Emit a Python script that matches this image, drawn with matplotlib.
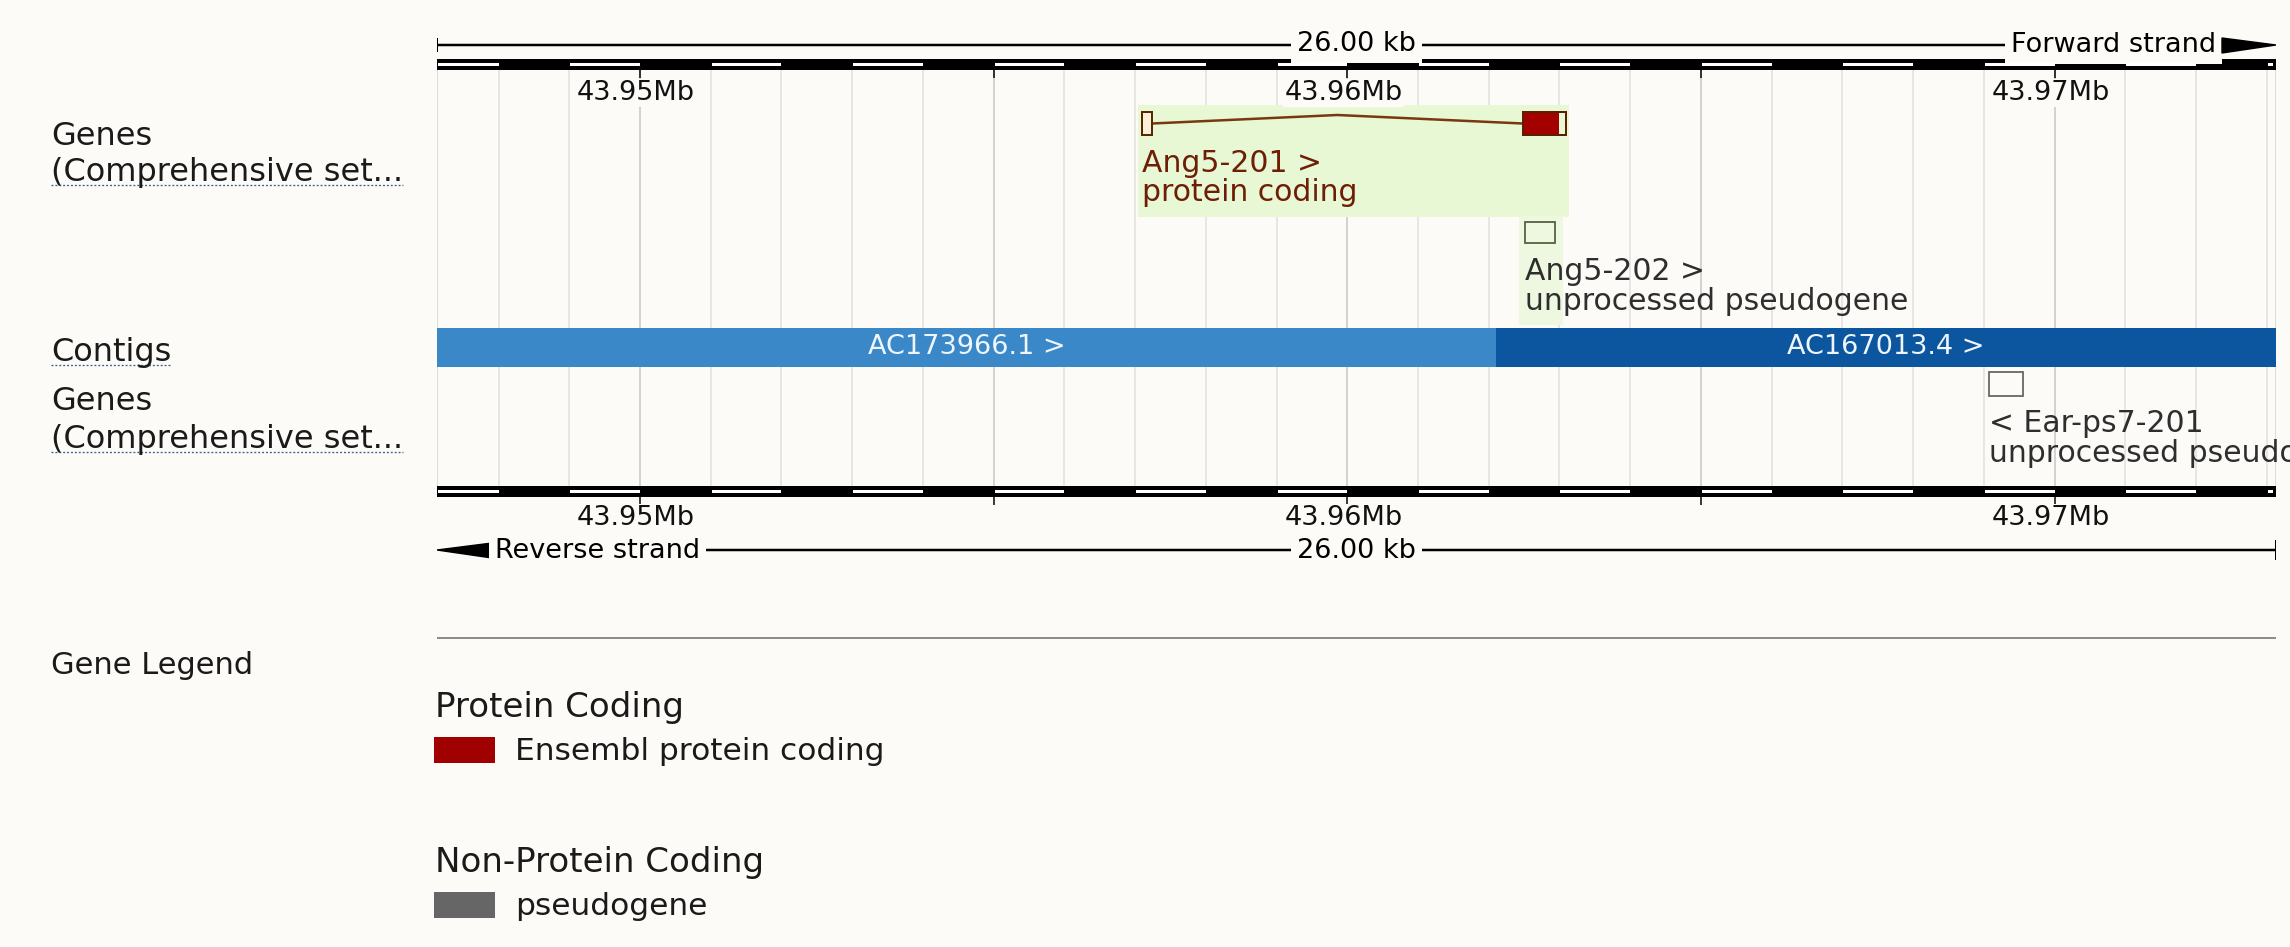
import numpy as np
import matplotlib
matplotlib.use('Agg')
import matplotlib.pyplot as plt
from matplotlib.patches import Rectangle, Polygon
from matplotlib.transforms import Affine2D

plt.rcParams["font.family"] = "DejaVu Sans"

W, H = 2290, 947
BG = '#fcfbf7'

# region shown, in bp
region_start = 43947130
region_end = 43973130
scale_label = '26.00 kb'
mb_ticks = [43950000, 43960000, 43970000]
mb_labels = ['43.95Mb', '43.96Mb', '43.97Mb']
half_ticks = [43955000, 43965000]

# contigs
contig_names = ['AC173966.1 >', 'AC167013.4 >']
contig_start = [43900000, 43962103]
contig_end = [43962102, 44000000]
contig_colors = ['#3a88c8', '#0b569f']

# Ang5-201, protein coding, forward strand
ang201_exon_start = [43957100, 43962480]
ang201_exon_end = [43957240, 43963090]
ang201_cds = (43962480, 43962990)
ang201_label = ['Ang5-201 >', 'protein coding']
# Ang5-202, unprocessed pseudogene, forward strand
ang202_span = (43962513, 43962937)
ang202_label = ['Ang5-202 >', 'unprocessed pseudogene']
# Ear-ps7-201, unprocessed pseudogene, reverse strand
ear_span = (43969073, 43969553)
ear_label = ['< Ear-ps7-201', 'unprocessed pseudogene']

track_labels = ['Genes', '(Comprehensive set...', 'Contigs', 'Genes', '(Comprehensive set...']
legend_groups = ['Protein Coding', 'Non-Protein Coding']
legend_items = ['Ensembl protein coding', 'pseudogene']
legend_colors = ['#a00000', '#666666']

PT = 0.72  # points per pixel at dpi 100

fig = plt.figure(figsize=(W / 100, H / 100), dpi=100)
fig.patch.set_facecolor(BG)
track_x0, track_x1 = 437, 2276
ax = fig.add_axes([track_x0 / W, 0, (track_x1 - track_x0) / W, 1])
ax.set_xlim(region_start, region_end)
ax.set_ylim(H, 0)
ax.axis('off')
bpp = (region_end - region_start) / (track_x1 - track_x0)  # bp per pixel

# pixel transform, origin top left
PX = Affine2D().scale(1 / W, -1 / H).translate(0, 1) + fig.transFigure

kb = np.arange(np.ceil(region_start / 1000) * 1000, region_end, 1000)

# grid lines
major = [k for k in kb if k % 5000 == 0]
minor = [k for k in kb if k % 5000 != 0]
ax.vlines(minor, 70, 487, color='#e0e0de', lw=1.5 * PT, zorder=1)
ax.vlines(major, 70, 487, color='#c6c6c4', lw=1.5 * PT, zorder=1)
ax.vlines([region_start, region_end], 70, 487, color='#d4d4d2', lw=1.5 * PT, zorder=1)


def ruler(y_top, label_base):
    ax.add_patch(Rectangle((region_start, y_top), region_end - region_start, 11,
                           fc='black', ec='none', zorder=4))
    starts = np.arange(np.floor(region_start / 1000) * 1000, region_end, 1000)
    for k in starts:
        if int(k / 1000) % 2 == 1:
            x0 = max(k, region_start)
            x1 = min(k + 1000, region_end - 3 * bpp)
            if x1 > x0:
                ax.add_patch(Rectangle((x0 + bpp, y_top + 3.5), x1 - x0 - bpp, 3.5,
                                       fc='white', ec='none', zorder=5))
    ax.vlines(mb_ticks + half_ticks, y_top + 11, y_top + 19, color='black',
              lw=1.5 * PT, zorder=5)
    for t, lab in zip(mb_ticks, mb_labels):
        ax.text(t - 4 * bpp, label_base, lab, ha='center', va='baseline', fontsize=19.5,
                color='#111111', zorder=6,
                bbox=dict(fc=BG, ec='none', pad=1))


ruler(59, 100)
ruler(486, 525)

# top scale line, forward strand
mid = (region_start + region_end) / 2
ax.plot([region_start, region_end - 50 * bpp], [45, 45], color='black', lw=2.5 * PT, zorder=3)
ax.vlines(region_start, 38, 52, color='black', lw=2 * PT, zorder=3)
ax.text(mid, 51, scale_label, ha='center', va='baseline', fontsize=19.5, zorder=4,
        bbox=dict(fc=BG, ec='none', pad=4))
ax.text(region_end - 60 * bpp, 52, 'Forward strand', ha='right', va='baseline',
        fontsize=19.5, zorder=4, bbox=dict(fc=BG, ec='none', pad=4))
ax.add_patch(Polygon([(region_end - 54 * bpp, 38), (region_end, 45),
                      (region_end - 54 * bpp, 53)], closed=True, fc='black',
                     ec='black', zorder=4))

# bottom scale line, reverse strand
ax.plot([region_start + 50 * bpp, region_end], [550, 550], color='black', lw=2.5 * PT, zorder=3)
ax.vlines(region_end, 540, 560, color='black', lw=2 * PT, zorder=3)
ax.add_patch(Polygon([(region_start, 550), (region_start + 55 * bpp, 543),
                      (region_start + 55 * bpp, 558)], closed=True, fc='black',
                     ec='black', zorder=4))
ax.text(region_start + 58 * bpp, 558, 'Reverse strand', ha='left', va='baseline',
        fontsize=19.5, zorder=4, bbox=dict(fc=BG, ec='none', pad=4))
ax.text(mid, 558, scale_label, ha='center', va='baseline', fontsize=19.5, zorder=4,
        bbox=dict(fc=BG, ec='none', pad=4))

# contigs
for name, s, e, c in zip(contig_names, contig_start, contig_end, contig_colors):
    s = max(s, region_start)
    e = min(e, region_end)
    ax.add_patch(Rectangle((s, 328), e - s, 39, fc=c, ec='none', zorder=3))
    ax.text((s + e) / 2, 354, name, ha='center', va='baseline', fontsize=19.5,
            color='#eef5fc', zorder=4)

# Ang5-201
hl = Rectangle((ang201_exon_start[0] - 4 * bpp, 105),
               ang201_exon_end[-1] - ang201_exon_start[0] + 7 * bpp, 112,
               fc='#e8f7d4', ec='none', zorder=2)
ax.add_patch(hl)
ax.add_patch(Rectangle((ang201_exon_start[0], 112),
                       ang201_exon_end[0] - ang201_exon_start[0], 23,
                       fc='#fbf1d8', ec='#5a2800', lw=2 * PT, zorder=4))
ax.add_patch(Rectangle((ang201_cds[0], 112), ang201_cds[1] - ang201_cds[0], 23,
                       fc='#a30000', ec='none', zorder=4))
ax.add_patch(Rectangle((ang201_exon_start[1], 112),
                       ang201_exon_end[1] - ang201_exon_start[1], 23,
                       fc='none', ec='#5a2000', lw=2 * PT, zorder=5))
intr_mid = (ang201_exon_end[0] + ang201_exon_start[1]) / 2
ax.plot([ang201_exon_end[0], intr_mid, ang201_exon_start[1]], [123.5, 115, 123.5],
        color='#7a3810', lw=2.5 * PT, zorder=3)
ax.text(ang201_exon_start[0], 172, ang201_label[0], ha='left', va='baseline',
        fontsize=21.5, color='#6e1e05', zorder=4)
ax.text(ang201_exon_start[0], 201, ang201_label[1], ha='left', va='baseline',
        fontsize=21.5, color='#6e1e05', zorder=4)

# Ang5-202
ax.add_patch(Rectangle((ang202_span[0] - 6 * bpp, 216),
                       ang202_span[1] - ang202_span[0] + 14 * bpp, 109,
                       fc='#eef8e0', ec='none', zorder=2))
ax.add_patch(Rectangle((ang202_span[0], 222), ang202_span[1] - ang202_span[0], 21,
                       fc='none', ec='#55603f', lw=1.8 * PT, zorder=4))
ax.text(ang202_span[0], 280, ang202_label[0], ha='left', va='baseline',
        fontsize=21.5, color='#2e2e2e', zorder=4)
ax.text(ang202_span[0], 310, ang202_label[1], ha='left', va='baseline',
        fontsize=21.5, color='#2e2e2e', zorder=4)

# Ear-ps7-201 (its label runs past the right edge, as in the browser)
ax.add_patch(Rectangle((ear_span[0], 372), ear_span[1] - ear_span[0], 24,
                       fc='none', ec='#666666', lw=1.8 * PT, zorder=4))
ax.text(ear_span[0], 432, ear_label[0], ha='left', va='baseline',
        fontsize=21.5, color='#2e2e2e', zorder=4)
ax.text(ear_span[0], 462, ear_label[1], ha='left', va='baseline',
        fontsize=21.5, color='#2e2e2e', zorder=4)

# left track labels
label_base = [145, 181, 361, 410, 448]
underlined = [False, True, True, False, True]
texts = []
for lab, yb in zip(track_labels, label_base):
    texts.append(fig.text(51, yb, lab, transform=PX, ha='left', va='baseline',
                          fontsize=23, color='#1a1a1a'))

# legend
ax.plot([region_start, region_end], [638, 638], color='#8c8c8a', lw=2 * PT, zorder=3)
fig.text(51, 674, 'Gene Legend', transform=PX, ha='left', va='baseline',
         fontsize=22, color='#1a1a1a')
group_base = [717, 872]
for grp, item, col, yb in zip(legend_groups, legend_items, legend_colors, group_base):
    fig.text(435, yb, grp, transform=PX, ha='left', va='baseline',
             fontsize=24.5, color='#1a1a1a')
    fig.add_artist(Rectangle((434, yb + 20), 61, 26, transform=PX, fc=col, ec='none'))
    fig.text(515, yb + 43, item, transform=PX, ha='left', va='baseline',
             fontsize=22.5, color='#1a1a1a')

# dotted underlines under the clickable track names
fig.canvas.draw()
r = fig.canvas.get_renderer()
for t, yb, u in zip(texts, label_base, underlined):
    if u:
        bb = t.get_window_extent(r)
        fig.add_artist(plt.Line2D([bb.x0, bb.x1], [yb + 4, yb + 4], transform=PX,
                                  color='#3d5b8c', lw=1.3 * PT, linestyle=(0, (1.5, 1.5))))

fig.savefig('out.png', dpi=100, facecolor=BG)
